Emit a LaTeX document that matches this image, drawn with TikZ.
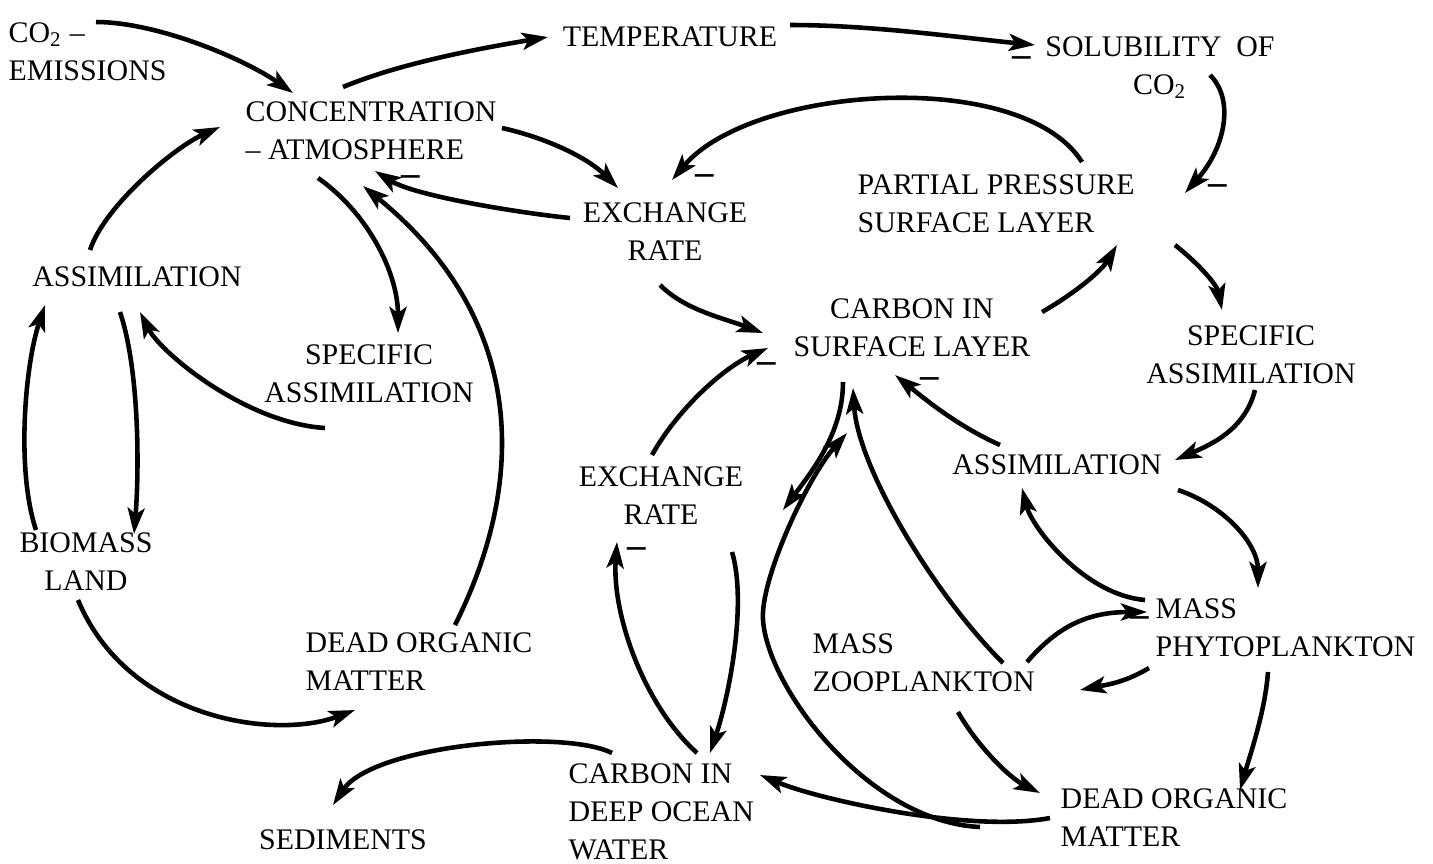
\documentclass[tikz,border=0pt]{standalone}
\usepackage{fontspec}
\setmainfont{Liberation Serif}
\usetikzlibrary{arrows.meta,calc}

\begin{document}
\begin{tikzpicture}[x=0.01cm,y=-0.01cm,
  >={Stealth[length=2.6mm,width=1.7mm,inset=0.6mm]},
  every node/.style={inner sep=0pt,font=\fontsize{8.5}{10.8}\selectfont},
  lab/.style={align=center},
  labl/.style={align=left,anchor=west},
  neg/.style={font=\fontsize{10.5}{10.5}\selectfont\bfseries},
  link/.style={->,line width=1.3pt}]
\useasboundingbox (0,0) rectangle (1433,863);
%\draw[very thin, gray] (0,0) grid[step=50] (1433,863);
\node[labl] (emis) at (8,52) {CO\textsubscript{2} –\\EMISSIONS};
\node[labl] (conc) at (245,131) {CONCENTRATION\\– ATMOSPHERE};
\node (temp) at (670,37) {TEMPERATURE};
\node[lab] (solub) at (1160,68) {SOLUBILITY\ \ OF\\CO\textsubscript{2}};
\node[labl] (pp) at (857,204) {PARTIAL PRESSURE\\SURFACE LAYER};
\node[lab] (exch1) at (665,232) {EXCHANGE\\RATE};
\node[lab] (csurf) at (912,328) {CARBON IN\\SURFACE LAYER};
\node (assimL) at (137,277) {ASSIMILATION};
\node[lab] (specL) at (369,374) {SPECIFIC\\ASSIMILATION};
\node[lab] (biom) at (86,562) {BIOMASS\\LAND};
\node[labl] (deadL) at (305,662) {DEAD ORGANIC\\MATTER};
\node[lab] (specR) at (1251,355) {SPECIFIC\\ASSIMILATION};
\node (assimR) at (1057,465) {ASSIMILATION};
\node[lab] (exch2) at (661,496) {EXCHANGE\\RATE};
\node[labl] (phyto) at (1155,628) {MASS\\PHYTOPLANKTON};
\node[labl] (zoo) at (812,663) {MASS\\ZOOPLANKTON};
\node[labl] (deadR) at (1060,818) {DEAD ORGANIC\\MATTER};
\node[labl] (deep) at (568,812) {CARBON IN\\DEEP OCEAN\\WATER};
\node (sed) at (343,840) {SEDIMENTS};
\coordinate (turn) at (763,620);

% atmosphere and ocean surface
\draw[link] ($(emis.west)+(88,-30)$) .. controls +(60,0) and +(-50,-35) .. ($(conc.west)+(48,-38)$);
\draw[link] ($(conc.west)+(98,-44)$) .. controls +(60,-25) and +(-60,10) .. ($(temp)+(-122,0)$);
\draw[link] ($(temp)+(120,-12)$) .. controls +(80,0) and +(-80,-8) .. ($(solub)+(-125,-23)$);
\draw[link] ($(solub)+(50,7)$) .. controls +(25,25) and +(40,-45) .. ($(pp.west)+(328,-11)$);
\draw[link] ($(pp.west)+(225,-42)$) .. controls +(-60,-95) and +(80,-95) .. ($(exch1)+(7,-52)$);
\draw[link] ($(conc.west)+(257,-3)$) .. controls +(45,10) and +(-30,-30) .. ($(exch1)+(-47,-44)$);
\draw[link] ($(exch1)+(-95,-14)$) .. controls +(-50,-5) and +(40,25) .. ($(conc.west)+(130,40)$);
\draw[link] ($(exch1)+(-5,53)$) .. controls +(25,25) and +(-40,-15) .. ($(csurf)+(-149,5)$);
\draw[link] ($(csurf)+(130,-16)$) .. controls +(35,-20) and +(-15,25) .. ($(pp.west)+(260,41)$);
\draw[link] ($(pp.west)+(318,41)$) .. controls +(25,20) and +(-5,-25) .. ($(specR)+(-29,-45)$);
\draw[link] ($(specR)+(4,35)$) .. controls +(-10,40) and +(35,-15) .. ($(assimR)+(118,-5)$);
\draw[link] ($(assimR)+(-57,-20)$) .. controls +(-45,-20) and +(25,20) .. ($(csurf)+(-17,47)$);
\draw[link] ($(assimR)+(121,25)$) .. controls +(45,15) and +(0,-45) .. ($(phyto.west)+(103,-40)$);
\draw[link] ($(phyto.west)+(-10,-28)$) .. controls +(-60,-5) and +(10,40) .. ($(assimR)+(-35,23)$);
\draw[link] ($(zoo.west)+(215,-1)$) .. controls +(30,-35) and +(-60,0) .. ($(phyto.west)+(-8,-16)$);
\draw[link] ($(phyto.west)+(-6,40)$) .. controls +(-25,15) and +(25,-5) .. ($(zoo.west)+(268,27)$);
\draw[link] ($(zoo.west)+(191,0)$) .. controls +(-70,-70) and +(5,80) .. ($(csurf)+(-59,60)$);
\draw[link] ($(csurf)+(-69,54)$) .. controls +(0,50) and +(30,-40) .. ($(exch2)+(122,14)$);
\draw[link] ($(deadR.west)+(-80,9)$) .. controls +(-110,-5) and +(5,70) .. (turn) .. controls +(-3,-40) and +(-40,45) .. ($(csurf)+(-65,105)$);
\draw[link] ($(exch2)+(-9,-41)$) .. controls +(25,-45) and +(-45,20) .. ($(csurf)+(-144,20)$);
% deep ocean
\draw[link] ($(deep.west)+(129,-59)$) .. controls +(-55,-50) and +(-5,70) .. ($(exch2)+(-44,46)$);
\draw[link] ($(exch2)+(71,56)$) .. controls +(15,50) and +(20,-60) .. ($(deep.west)+(142,-59)$);
\draw[link] ($(deep.west)+(44,-59)$) .. controls +(-50,-25) and +(40,-60) .. ($(sed)+(-10,-35)$);
\draw[link] ($(deadR.west)+(-10,0)$) .. controls +(-80,15) and +(60,25) .. ($(deep.west)+(192,-37)$);
\draw[link] ($(zoo.west)+(146,49)$) .. controls +(20,35) and +(-30,-15) .. ($(deadR.west)+(-20,-25)$);
\draw[link] ($(phyto.west)+(113,44)$) .. controls +(-3,40) and +(10,-35) .. ($(deadR.west)+(180,-28)$);
% land
\draw[link] ($(conc.west)+(73,47)$) .. controls +(50,35) and +(0,-60) .. ($(specL)+(29,-41)$);
\draw[link] ($(deadL.west)+(150,-37)$) .. controls +(75,-150) and +(160,130) .. ($(conc.west)+(118,55)$);
\draw[link] ($(assimL)+(-47,-27)$) .. controls +(15,-45) and +(-45,20) .. ($(conc.west)+(-25,-4)$);
\draw[link] ($(biom)+(-50,-32)$) .. controls +(-20,-60) and +(-20,60) .. ($(assimL)+(-92,28)$);
\draw[link] ($(assimL)+(-17,35)$) .. controls +(20,60) and +(5,-60) .. ($(biom)+(48,-28)$);
\draw[link] ($(specL)+(-44,54)$) .. controls +(-80,-5) and +(20,40) .. ($(assimL)+(3,35)$);
\draw[link] ($(biom)+(-8,38)$) .. controls +(50,120) and +(-80,30) .. ($(deadL.west)+(50,48)$);

\node[neg] (m1) at ($(solub)+(-138,-6)$) {–};
\node[neg] (m2) at ($(pp.west)+(361,-14)$) {–};
\node[neg] (m3) at ($(exch1)+(40,-52)$) {–};
\node[neg] (m4) at ($(conc.west)+(166,50)$) {–};
\node[neg] (m5) at ($(csurf)+(-145,40)$) {–};
\node[neg] (m6) at ($(csurf)+(18,55)$) {–};
\node[neg] (m7) at ($(exch2)+(-24,57)$) {–};
\node[neg] (m8) at ($(phyto.west)+(-15,-6)$) {–};
\end{tikzpicture}
\end{document}
